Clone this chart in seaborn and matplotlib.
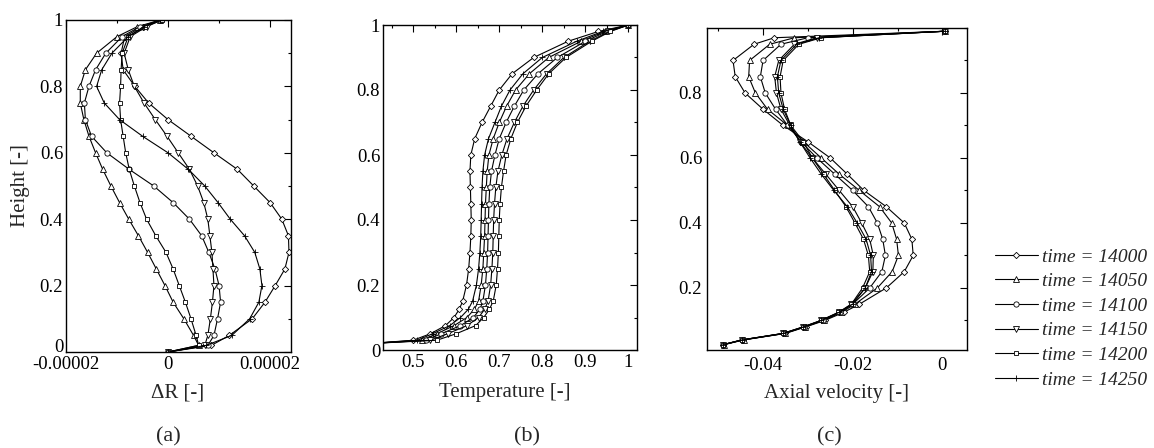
import matplotlib
matplotlib.use("Agg")
import matplotlib.pyplot as plt
import matplotlib.transforms as mtransforms
import seaborn as sns
from matplotlib.ticker import FixedLocator, FixedFormatter

sns.set_style("white")
plt.rcParams["font.family"] = ["Liberation Serif", "DejaVu Serif"]

times = ["14000", "14050", "14100", "14150", "14200", "14250"]
labels = ["time = " + t for t in times]
markers = ["D", "^", "o", "v", "s", "+"]
msizes = [3.2, 4.0, 3.8, 4.0, 3.4, 5.0]

# ---------------- panel (a): Delta R (units of 1e-5) vs height
a_height = [0, 0.02, 0.05, 0.1, 0.15, 0.2, 0.25, 0.3, 0.35, 0.4, 0.45, 0.5,
            0.55, 0.6, 0.65, 0.7, 0.75, 0.8, 0.85, 0.9, 0.95, 0.98, 1.0]
a_dr_14000 = [0, 0.85, 1.2, 1.65, 1.9, 2.1, 2.29, 2.37, 2.36, 2.23, 2.0, 1.68,
              1.36, 0.9, 0.45, 0.0, -0.38, -0.65, -0.88, -0.92, -0.85, -0.5, -0.15]
a_dr_14050 = [0, 0.6, 0.5, 0.31, 0.1, -0.06, -0.23, -0.4, -0.58, -0.77, -0.95, -1.12,
              -1.28, -1.42, -1.55, -1.65, -1.72, -1.72, -1.62, -1.4, -1.0, -0.6, -0.15]
a_dr_14100 = [0, 0.78, 0.9, 0.97, 1.03, 1.0, 0.92, 0.8, 0.66, 0.42, 0.1, -0.28,
              -0.76, -1.2, -1.5, -1.62, -1.64, -1.55, -1.42, -1.22, -0.9, -0.55, -0.15]
a_dr_14150 = [0, 0.72, 0.78, 0.83, 0.87, 0.9, 0.88, 0.86, 0.82, 0.78, 0.7, 0.58,
              0.42, 0.2, -0.02, -0.25, -0.47, -0.66, -0.78, -0.86, -0.74, -0.42, -0.12]
a_dr_14200 = [0, 0.6, 0.55, 0.45, 0.34, 0.22, 0.1, -0.04, -0.24, -0.42, -0.55, -0.66,
              -0.76, -0.83, -0.88, -0.93, -0.95, -0.93, -0.92, -0.9, -0.78, -0.45, -0.12]
a_dr_14250 = [0, 0.75, 1.25, 1.6, 1.78, 1.84, 1.8, 1.7, 1.5, 1.22, 0.98, 0.72,
              0.4, 0.0, -0.5, -0.95, -1.25, -1.4, -1.3, -1.1, -0.78, -0.48, -0.15]
a_unit = 1e-5

# ---------------- panel (b): temperature vs height
b_height = [0.02, 0.03, 0.05, 0.075, 0.1, 0.125, 0.15, 0.2, 0.25, 0.3, 0.35, 0.4, 0.45,
            0.5, 0.55, 0.6, 0.65, 0.7, 0.75, 0.8, 0.85, 0.9, 0.95, 0.98, 1.0]
b_t_14000 = [0.40, 0.50, 0.54, 0.575, 0.595, 0.607, 0.615, 0.624, 0.629, 0.632, 0.634, 0.635, 0.634,
             0.633, 0.632, 0.634, 0.643, 0.66, 0.68, 0.70, 0.73, 0.78, 0.86, 0.93, 1.0]
b_t_14050 = [0.40, 0.52, 0.555, 0.595, 0.625, 0.642, 0.652, 0.658, 0.662, 0.664, 0.666, 0.667, 0.668,
             0.67, 0.672, 0.676, 0.686, 0.70, 0.717, 0.738, 0.77, 0.815, 0.89, 0.945, 1.0]
b_t_14100 = [0.40, 0.53, 0.565, 0.61, 0.64, 0.655, 0.662, 0.668, 0.671, 0.673, 0.674, 0.675, 0.676,
             0.678, 0.682, 0.69, 0.70, 0.716, 0.735, 0.757, 0.79, 0.835, 0.90, 0.95, 1.0]
b_t_14150 = [0.40, 0.54, 0.58, 0.625, 0.652, 0.666, 0.674, 0.68, 0.683, 0.685, 0.686, 0.687, 0.689,
             0.692, 0.697, 0.706, 0.718, 0.735, 0.755, 0.78, 0.81, 0.85, 0.91, 0.955, 1.0]
b_t_14200 = [0.40, 0.555, 0.60, 0.645, 0.664, 0.677, 0.686, 0.693, 0.696, 0.698, 0.699, 0.70, 0.702,
             0.705, 0.71, 0.716, 0.727, 0.742, 0.762, 0.787, 0.815, 0.855, 0.915, 0.958, 1.0]
b_t_14250 = [0.40, 0.51, 0.545, 0.585, 0.61, 0.628, 0.638, 0.647, 0.652, 0.655, 0.657, 0.658, 0.659,
             0.66, 0.662, 0.666, 0.675, 0.69, 0.705, 0.725, 0.755, 0.80, 0.88, 0.94, 1.0]

# ---------------- panel (c): axial velocity (units of 0.01) vs height
c_height = [0.025, 0.04, 0.06, 0.08, 0.1, 0.125, 0.15, 0.2, 0.25, 0.3, 0.35, 0.4, 0.45,
            0.5, 0.55, 0.6, 0.65, 0.7, 0.75, 0.8, 0.85, 0.9, 0.95, 0.97, 0.99]
c_v_14000 = [-4.9, -4.45, -3.5, -3.05, -2.62, -2.2, -1.85, -1.25, -0.85, -0.65, -0.68, -0.85, -1.25,
             -1.75, -2.12, -2.5, -3.0, -3.55, -4.0, -4.4, -4.62, -4.67, -4.2, -3.75, 0.05]
c_v_14050 = [-4.88, -4.43, -3.52, -3.07, -2.65, -2.25, -1.95, -1.45, -1.12, -0.98, -1.02, -1.13, -1.4,
             -1.85, -2.3, -2.7, -3.1, -3.45, -3.9, -4.17, -4.32, -4.3, -3.85, -3.3, 0.05]
c_v_14100 = [-4.9, -4.46, -3.53, -3.08, -2.67, -2.28, -2.0, -1.62, -1.35, -1.27, -1.33, -1.45, -1.65,
             -2.0, -2.4, -2.8, -3.15, -3.45, -3.72, -3.95, -4.06, -4.0, -3.6, -3.0, 0.05]
c_v_14150 = [-4.9, -4.47, -3.55, -3.1, -2.7, -2.3, -2.03, -1.72, -1.55, -1.54, -1.62, -1.8, -2.0,
             -2.3, -2.6, -2.9, -3.18, -3.4, -3.6, -3.7, -3.74, -3.65, -3.3, -2.8, 0.05]
c_v_14200 = [-4.9, -4.48, -3.56, -3.11, -2.71, -2.32, -2.03, -1.78, -1.62, -1.65, -1.76, -1.95, -2.15,
             -2.4, -2.65, -2.9, -3.1, -3.38, -3.52, -3.6, -3.62, -3.55, -3.2, -2.7, 0.05]
c_v_14250 = [-4.9, -4.47, -3.55, -3.1, -2.7, -2.3, -2.0, -1.72, -1.58, -1.6, -1.7, -1.9, -2.12,
             -2.42, -2.7, -2.95, -3.18, -3.38, -3.55, -3.65, -3.68, -3.6, -3.25, -2.75, 0.05]
c_unit = 0.01

a_series = [a_dr_14000, a_dr_14050, a_dr_14100, a_dr_14150, a_dr_14200, a_dr_14250]
b_series = [b_t_14000, b_t_14050, b_t_14100, b_t_14150, b_t_14200, b_t_14250]
c_series = [c_v_14000, c_v_14050, c_v_14100, c_v_14150, c_v_14200, c_v_14250]

W, H = 1154, 448
fig = plt.figure(figsize=(W / 100, H / 100), dpi=100)


def box(l, r, t, b):
    return [l / W, 1 - b / H, (r - l) / W, (b - t) / H]


ax_a = fig.add_axes(box(66, 291, 20, 352))
ax_b = fig.add_axes(box(383, 637, 25, 350))
ax_c = fig.add_axes(box(707, 967, 28, 350))


def draw(ax, heights, series, unit):
    for vals, m, ms, lab in zip(series, markers, msizes, labels):
        sns.lineplot(x=[v * unit for v in vals], y=heights, ax=ax, sort=False,
                     estimator=None, color="black", linewidth=0.8, marker=m,
                     markersize=ms, markerfacecolor="white", markeredgecolor="black",
                     markeredgewidth=0.6, label=lab)
    if ax.get_legend() is not None:
        ax.get_legend().remove()


draw(ax_a, a_height, a_series, a_unit)
draw(ax_b, b_height, b_series, 1.0)
draw(ax_c, c_height, c_series, c_unit)

tick_fs = 13.5


def style(ax, xmaj, xlab, xmin, ymaj, ylab, ymin, xpad, ypad):
    ax.xaxis.set_major_locator(FixedLocator(xmaj))
    ax.xaxis.set_major_formatter(FixedFormatter(xlab))
    ax.xaxis.set_minor_locator(FixedLocator(xmin))
    ax.yaxis.set_major_locator(FixedLocator(ymaj))
    ax.yaxis.set_major_formatter(FixedFormatter(ylab))
    ax.yaxis.set_minor_locator(FixedLocator(ymin))
    ax.tick_params(which="both", direction="in", top=True, right=True, width=0.8,
                   colors="black", labelsize=tick_fs)
    ax.tick_params(which="major", length=5)
    ax.tick_params(which="minor", length=2.5)
    ax.tick_params(axis="x", pad=xpad)
    ax.tick_params(axis="y", pad=ypad)
    for s in ax.spines.values():
        s.set_color("black")
        s.set_linewidth(1.0)
    ax.set_xlabel("")
    ax.set_ylabel("")
    ax.grid(False)


yfull = [0, 0.2, 0.4, 0.6, 0.8, 1.0]
yfull_lab = ["0", "0.2", "0.4", "0.6", "0.8", "1"]
ytenth = [0.1, 0.3, 0.5, 0.7, 0.9]

style(ax_a, [-2e-5, 0, 2e-5], ["-0.00002", "0", "0.00002"], [-1e-5, 1e-5],
      yfull, yfull_lab, ytenth, 3, 2)
ax_a.set_xlim(-2.0e-5, 2.41e-5)
ax_a.set_ylim(0, 1)

style(ax_b, [0.5, 0.6, 0.7, 0.8, 0.9, 1.0], ["0.5", "0.6", "0.7", "0.8", "0.9", "1"],
      [0.45, 0.55, 0.65, 0.75, 0.85, 0.95], yfull, yfull_lab, ytenth, 3, 2)
ax_b.set_xlim(0.43, 1.02)
ax_b.set_ylim(0, 1)

style(ax_c, [-0.04, -0.02, 0.0], ["-0.04", "-0.02", "0"], [-0.05, -0.03, -0.01],
      [0.2, 0.4, 0.6, 0.8], ["0.2", "0.4", "0.6", "0.8"], [0.1, 0.3, 0.5, 0.7, 0.9, 1.0], 5, 3.5)
ax_c.set_xlim(-0.0525, 0.0055)
ax_c.set_ylim(0.009, 1.0)

lab_fs = 15
fig.text(178 / W, 1 - 393 / H, "\u0394R [-]", ha="center", va="center", fontsize=lab_fs)
fig.text(505 / W, 1 - 392 / H, "Temperature [-]", ha="center", va="center", fontsize=lab_fs)
fig.text(836 / W, 1 - 393 / H, "Axial velocity [-]", ha="center", va="center", fontsize=lab_fs)
fig.text(20 / W, 1 - 186 / H, "Height [-]", ha="center", va="center", rotation=90, fontsize=lab_fs)

fig.text(168 / W, 1 - 437 / H, "(a)", ha="center", va="center", fontsize=16)
fig.text(527 / W, 1 - 437 / H, "(b)", ha="center", va="center", fontsize=16)
fig.text(829 / W, 1 - 437 / H, "(c)", ha="center", va="center", fontsize=16)

handles, hlabels = ax_c.get_legend_handles_labels()
fig.legend(handles, hlabels, loc="upper left", bbox_to_anchor=(995 / W, 1 - 248 / H),
           frameon=False, handlelength=2.2, handletextpad=0.2, labelspacing=0.36,
           borderpad=0, borderaxespad=0,
           prop={"family": ["Liberation Serif"], "style": "italic", "size": 14})

# lift the "0" height label of panel (a) slightly, as in the reference
fig.canvas.draw()
lift = mtransforms.ScaledTranslation(0, 7 / 100, fig.dpi_scale_trans)
zero_lab = ax_a.yaxis.get_major_ticks()[0].label1
zero_lab.set_transform(zero_lab.get_transform() + lift)

fig.savefig("out.png", dpi=100, facecolor="white")
